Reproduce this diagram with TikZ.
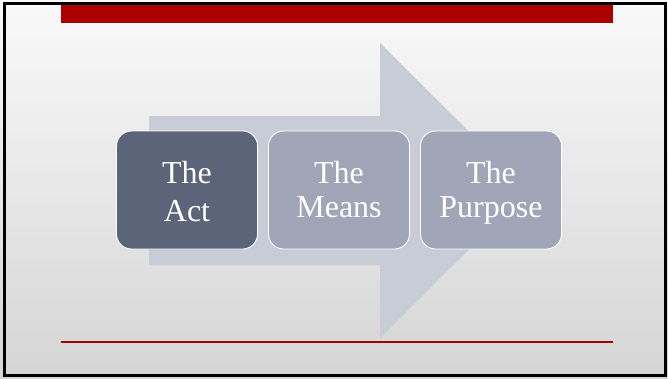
\documentclass[tikz,border=0pt]{standalone}
\usepackage{fontspec}
\setmainfont{Liberation Serif}
\definecolor{barred}{HTML}{AA0000}
\definecolor{arrowfill}{HTML}{C7CCD7}
\definecolor{actfill}{HTML}{5B6478}
\definecolor{stepfill}{HTML}{A0A6B8}
\definecolor{bgtop}{HTML}{F9F9F9}
\definecolor{bgbot}{HTML}{D5D5D5}
\newcommand{\mystrut}{\rule[-7pt]{0pt}{34pt}}
\newcommand{\actstrut}{\rule[-7pt]{0pt}{38.5pt}}
\tikzset{
  stagebox/.style={draw=white, line width=0.9pt, rounded corners=15pt,
    minimum width=141pt, minimum height=118pt, inner sep=0pt,
    align=center, text=white, font=\fontsize{32}{34}\selectfont},
  bigarrow/.style={fill=arrowfill, draw=none}
}
\begin{document}
\begin{tikzpicture}[x=1pt,y=-1pt]
\useasboundingbox (0,0) rectangle (668,378);
% background
\shade[top color=bgtop, bottom color=bgbot] (0,0) rectangle (668,378);
\draw[line width=2.6pt, black] (4.5,3.5) rectangle (665.5,375.5);
% red bar and line
\fill[barred] (61,5) rectangle (613,23);
\fill[barred] (61,340.8) rectangle (613,342.6);
% big arrow
\path[bigarrow] (149,116) -- (380,116) -- (380,43) -- (528,190.5) -- (380,338) -- (380,265) -- (149,265) -- cycle;
% stages
\node[stagebox, fill=actfill, font=\fontsize{32}{38.5}\selectfont] (act) at (187,190) {\actstrut The\\\actstrut Act};
\node[stagebox, fill=stepfill] (means) at (339,190) {\mystrut The\\\mystrut Means};
\node[stagebox, fill=stepfill] (purpose) at (491,190) {\mystrut The\\\mystrut Purpose};
\end{tikzpicture}
\end{document}
